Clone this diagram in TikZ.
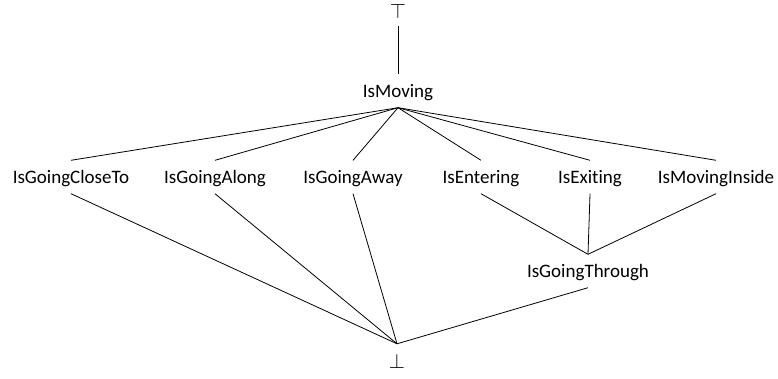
\documentclass[tikz,border=0pt]{standalone}
\usepackage{fontspec}
\setmainfont[Ligatures=NoCommon]{Carlito}
\begin{document}
\begin{tikzpicture}[x=1pt,y=-1pt,
  lbl/.style={anchor=base, inner xsep=0pt, inner ysep=10.5pt, text height=12pt, text depth=0pt, font=\fontsize{19}{23}\selectfont},
  sym/.style={anchor=base, inner sep=0pt, font=\fontsize{22}{26}\selectfont},
  edge/.style={line width=0.8pt, draw=black}]
\useasboundingbox (0,0) rectangle (778,378);
\node[sym, text depth=8pt] (top) at (398,18) {$\top$};
\node[sym, text depth=0pt, text height=24pt] (bot) at (397,368) {$\bot$};
\node[lbl] (mov) at (398,97) {IsMoving};
\node[lbl] (close) at (71,183) {IsGoingCloseTo};
\node[lbl] (along) at (215,183) {IsGoingAlong};
\node[lbl] (away) at (353,183) {IsGoingAway};
\node[lbl] (ent) at (481,183) {IsEntering};
\node[lbl] (exi) at (590,183) {IsExiting};
\node[lbl] (ins) at (716,183) {IsMovingInside};
\node[lbl] (thr) at (588,277) {IsGoingThrough};
\draw[edge] (top.south) -- (mov.north);
\foreach \n in {close,along,away,ent,exi,ins} {
  \draw[edge] (mov.south) -- (\n.north);
}
\foreach \n in {close,along,away,thr} {
  \draw[edge] (\n.south) -- (bot.north);
}
\foreach \n in {ent,exi,ins} {
  \draw[edge] (\n.south) -- (thr.north);
}
\end{tikzpicture}
\end{document}
